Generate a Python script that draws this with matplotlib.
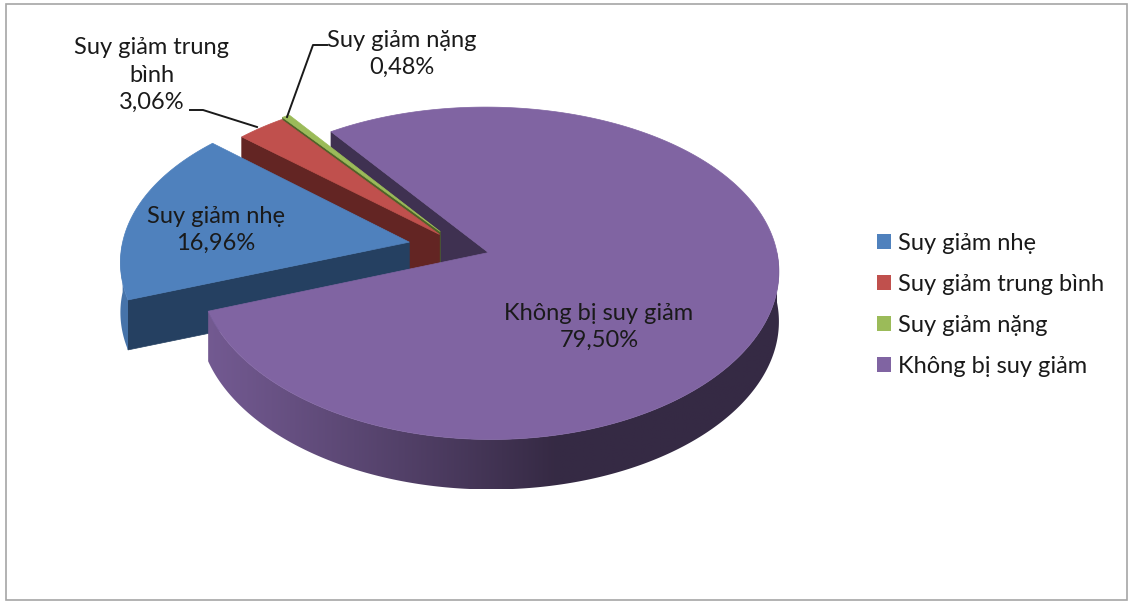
import numpy as np
import matplotlib.pyplot as plt
from matplotlib.colors import to_rgb
from matplotlib.patches import Polygon, Rectangle, Patch

# data
labels = ["Suy giảm nhẹ", "Suy giảm trung bình", "Suy giảm nặng", "Không bị suy giảm"]
label_names = ["Suy giảm nhẹ", "Suy giảm trung\nbình", "Suy giảm nặng", "Không bị suy giảm"]
values = [16.96, 3.06, 0.48, 79.50]

colors = ["#4f81bd", "#c0504d", "#9bbb59", "#8064a2"]
side_colors = ["#254061", "#632523", "#4f6228", "#3f3151"]
explode = [0.185, 0.112, 0.124, 0.098]

# 3d pie geometry (pixels)
START = 199.8          # first slice runs clockwise from this angle
CX, CY = 461.4, 247.8
RX = 287.7
A, B = 165.0, 20.7     # vertical squash + perspective
K = 0.106              # far side drawn narrower
DEPTH = 50

plt.rcParams['font.family'] = ['Lato', 'DejaVu Sans']


def to_screen(u, v, z=0.0):
    u = np.asarray(u, dtype=float)
    v = np.asarray(v, dtype=float)
    return CX + RX * u * (1 - K * v), CY - A * v + B * v ** 2 + DEPTH * z


fig = plt.figure(figsize=(11.29, 6.03), dpi=100)
ax = fig.add_axes([0, 0, 1, 1])
ax.set_xlim(0, 1129)
ax.set_ylim(603, 0)
ax.axis('off')

fracs = np.array(values) / sum(values)
ends = START - 360 * np.cumsum(fracs)
starts = ends + 360 * fracs

slices = []
for i in range(len(values)):
    t0, t1 = starts[i], ends[i]
    mid = np.radians((t0 + t1) / 2)
    off = (explode[i] * np.cos(mid), explode[i] * np.sin(mid))
    slices.append((t0, t1, off))


def rim(off, theta_deg):
    th = np.radians(theta_deg)
    return off[0] + np.cos(th), off[1] + np.sin(th)


def wall(i, theta):
    off = slices[i][2]
    ru, rv = rim(off, theta)
    xs0, ys0 = to_screen([off[0], ru], [off[1], rv], 0)
    xs1, ys1 = to_screen([ru, off[0]], [rv, off[1]], 1)
    pts = np.column_stack([np.r_[xs0, xs1], np.r_[ys0, ys1]])
    ax.add_patch(Polygon(pts, closed=True, fc=side_colors[i], ec=side_colors[i],
                         lw=0.5, zorder=1))


# radial walls, back ones first
order = sorted(range(len(values)), key=lambda k: slices[k][0] % 360)
for i in order:
    t0, t1, off = slices[i]
    if np.cos(np.radians(t0)) < 0:
        wall(i, t0)
    if np.cos(np.radians(t1)) > 0:
        wall(i, t1)

# outer curved walls, gradient lit from the left
light = np.array([-0.98, -0.2])
for i, (t0, t1, off) in enumerate(slices):
    th = np.linspace(t1, t0, 1500)
    front = np.sin(np.radians(th)) < 0
    if not front.any():
        continue
    idx = np.flatnonzero(front)
    runs = np.split(idx, np.flatnonzero(np.diff(idx) > 1) + 1)
    base = np.array(to_rgb(colors[i]))
    for run in runs:
        tr = th[run]
        u, v = rim(off, tr)
        x0, y0 = to_screen(u, v, 0)
        x1, y1 = to_screen(u, v, 1)
        pts = np.column_stack([np.r_[x0, x1[::-1]], np.r_[y0, y1[::-1]]])
        outline = Polygon(pts, closed=True, fc='none', ec='none')
        ax.add_patch(outline)

        rad = np.radians(tr)
        d = np.clip(light[0] * np.cos(rad) + light[1] * np.sin(rad), 0, None)
        f = 0.42 + 0.48 * d
        srt = np.argsort(x0)
        xs = np.linspace(x0.min(), x0.max(), 600)
        fx = np.interp(xs, x0[srt], f[srt])
        img = np.clip(base[None, None, :] * fx[None, :, None], 0, 1)
        im = ax.imshow(img, extent=[x0.min(), x0.max(), pts[:, 1].max(), pts[:, 1].min()],
                       aspect='auto', interpolation='bilinear', zorder=2)
        im.set_clip_path(outline)

# top faces
for i, (t0, t1, off) in enumerate(slices):
    th = np.linspace(t1, t0, max(int(abs(t0 - t1)) * 2, 4))
    u, v = rim(off, th)
    x, y = to_screen(np.r_[off[0], u], np.r_[off[1], v], 0)
    ax.add_patch(Polygon(np.column_stack([x, y]), closed=True, fc=colors[i], ec=colors[i],
                         lw=0.5, zorder=3))

# data labels
label_pos = [(216, 230), (152, 75), (402, 54), (599, 327)]
for name, val, (lx, ly) in zip(label_names, values, label_pos):
    txt = f"{name}\n{val:.2f}%".replace('.', ',')
    ax.text(lx, ly, txt, ha='center', va='center', fontsize=17, color='#1a1a1a',
            linespacing=1.37, zorder=5)

# leader lines
ax.plot([190, 203, 257], [110, 110, 127], color='#1a1a1a', lw=1.4, zorder=4)
ax.plot([327, 313, 287], [45, 45, 117], color='#1a1a1a', lw=1.4, zorder=4)

# legend
handles = [Patch(fc=c, ec='none') for c in colors]
ax.legend(handles, labels, loc='center left', bbox_to_anchor=(877 / 1129, 1 - 305 / 603),
          frameon=False, fontsize=17, handlelength=0.6, handleheight=0.6,
          handletextpad=0.3, labelspacing=0.85, borderpad=0, borderaxespad=0,
          labelcolor='#1a1a1a')

# chart area border
ax.add_patch(Rectangle((6, 4), 1121, 596, fill=False, ec='#a6a6a6', lw=1.2, zorder=6))

fig.savefig("out.png", dpi=100)
